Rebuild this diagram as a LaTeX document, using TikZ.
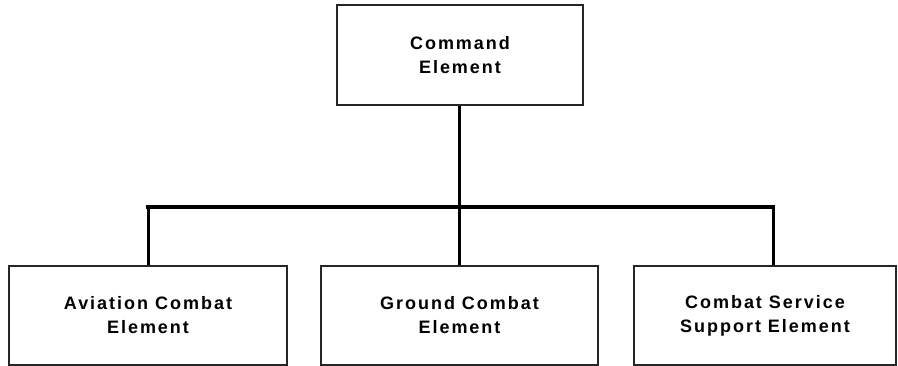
\documentclass[tikz,border=0pt]{standalone}
\usepackage{fontspec}
\setmainfont{Liberation Sans}[LetterSpace=11]
\begin{document}
\begin{tikzpicture}[x=1pt,y=-1pt,
  box/.style={draw=black!85,line width=1.4pt,fill=white,inner sep=0pt,align=center,
    font=\fontsize{18}{24}\selectfont\bfseries},
  conn/.style={draw=black,line width=3pt},
  bar/.style={draw=black,line width=4pt}]
\useasboundingbox (0,0) rectangle (898,366);
\node[box,minimum width=246,minimum height=100] (cmd) at (460,55) {Command\\Element};
\node[box,minimum width=278,minimum height=99] (ace) at (148,315.5) {Aviation Combat\\Element};
\node[box,minimum width=277,minimum height=99] (gce) at (459.5,315.5) {Ground Combat\\Element};
\node[box,minimum width=262,minimum height=99] (csse) at (765,315.5) {Combat Service\\Support Element};
\coordinate (jl) at (148,207);
\coordinate (jr) at (773,207);
\coordinate (jm) at (459,207);
\draw[bar,line cap=rect] (jl) -- (jr);
\draw[conn] (cmd.south -| jm) -- (gce.north -| jm);
\draw[conn] (jl) -- (ace.north -| jl);
\draw[conn] (jr) -- (csse.north -| jr);
\end{tikzpicture}
\end{document}
